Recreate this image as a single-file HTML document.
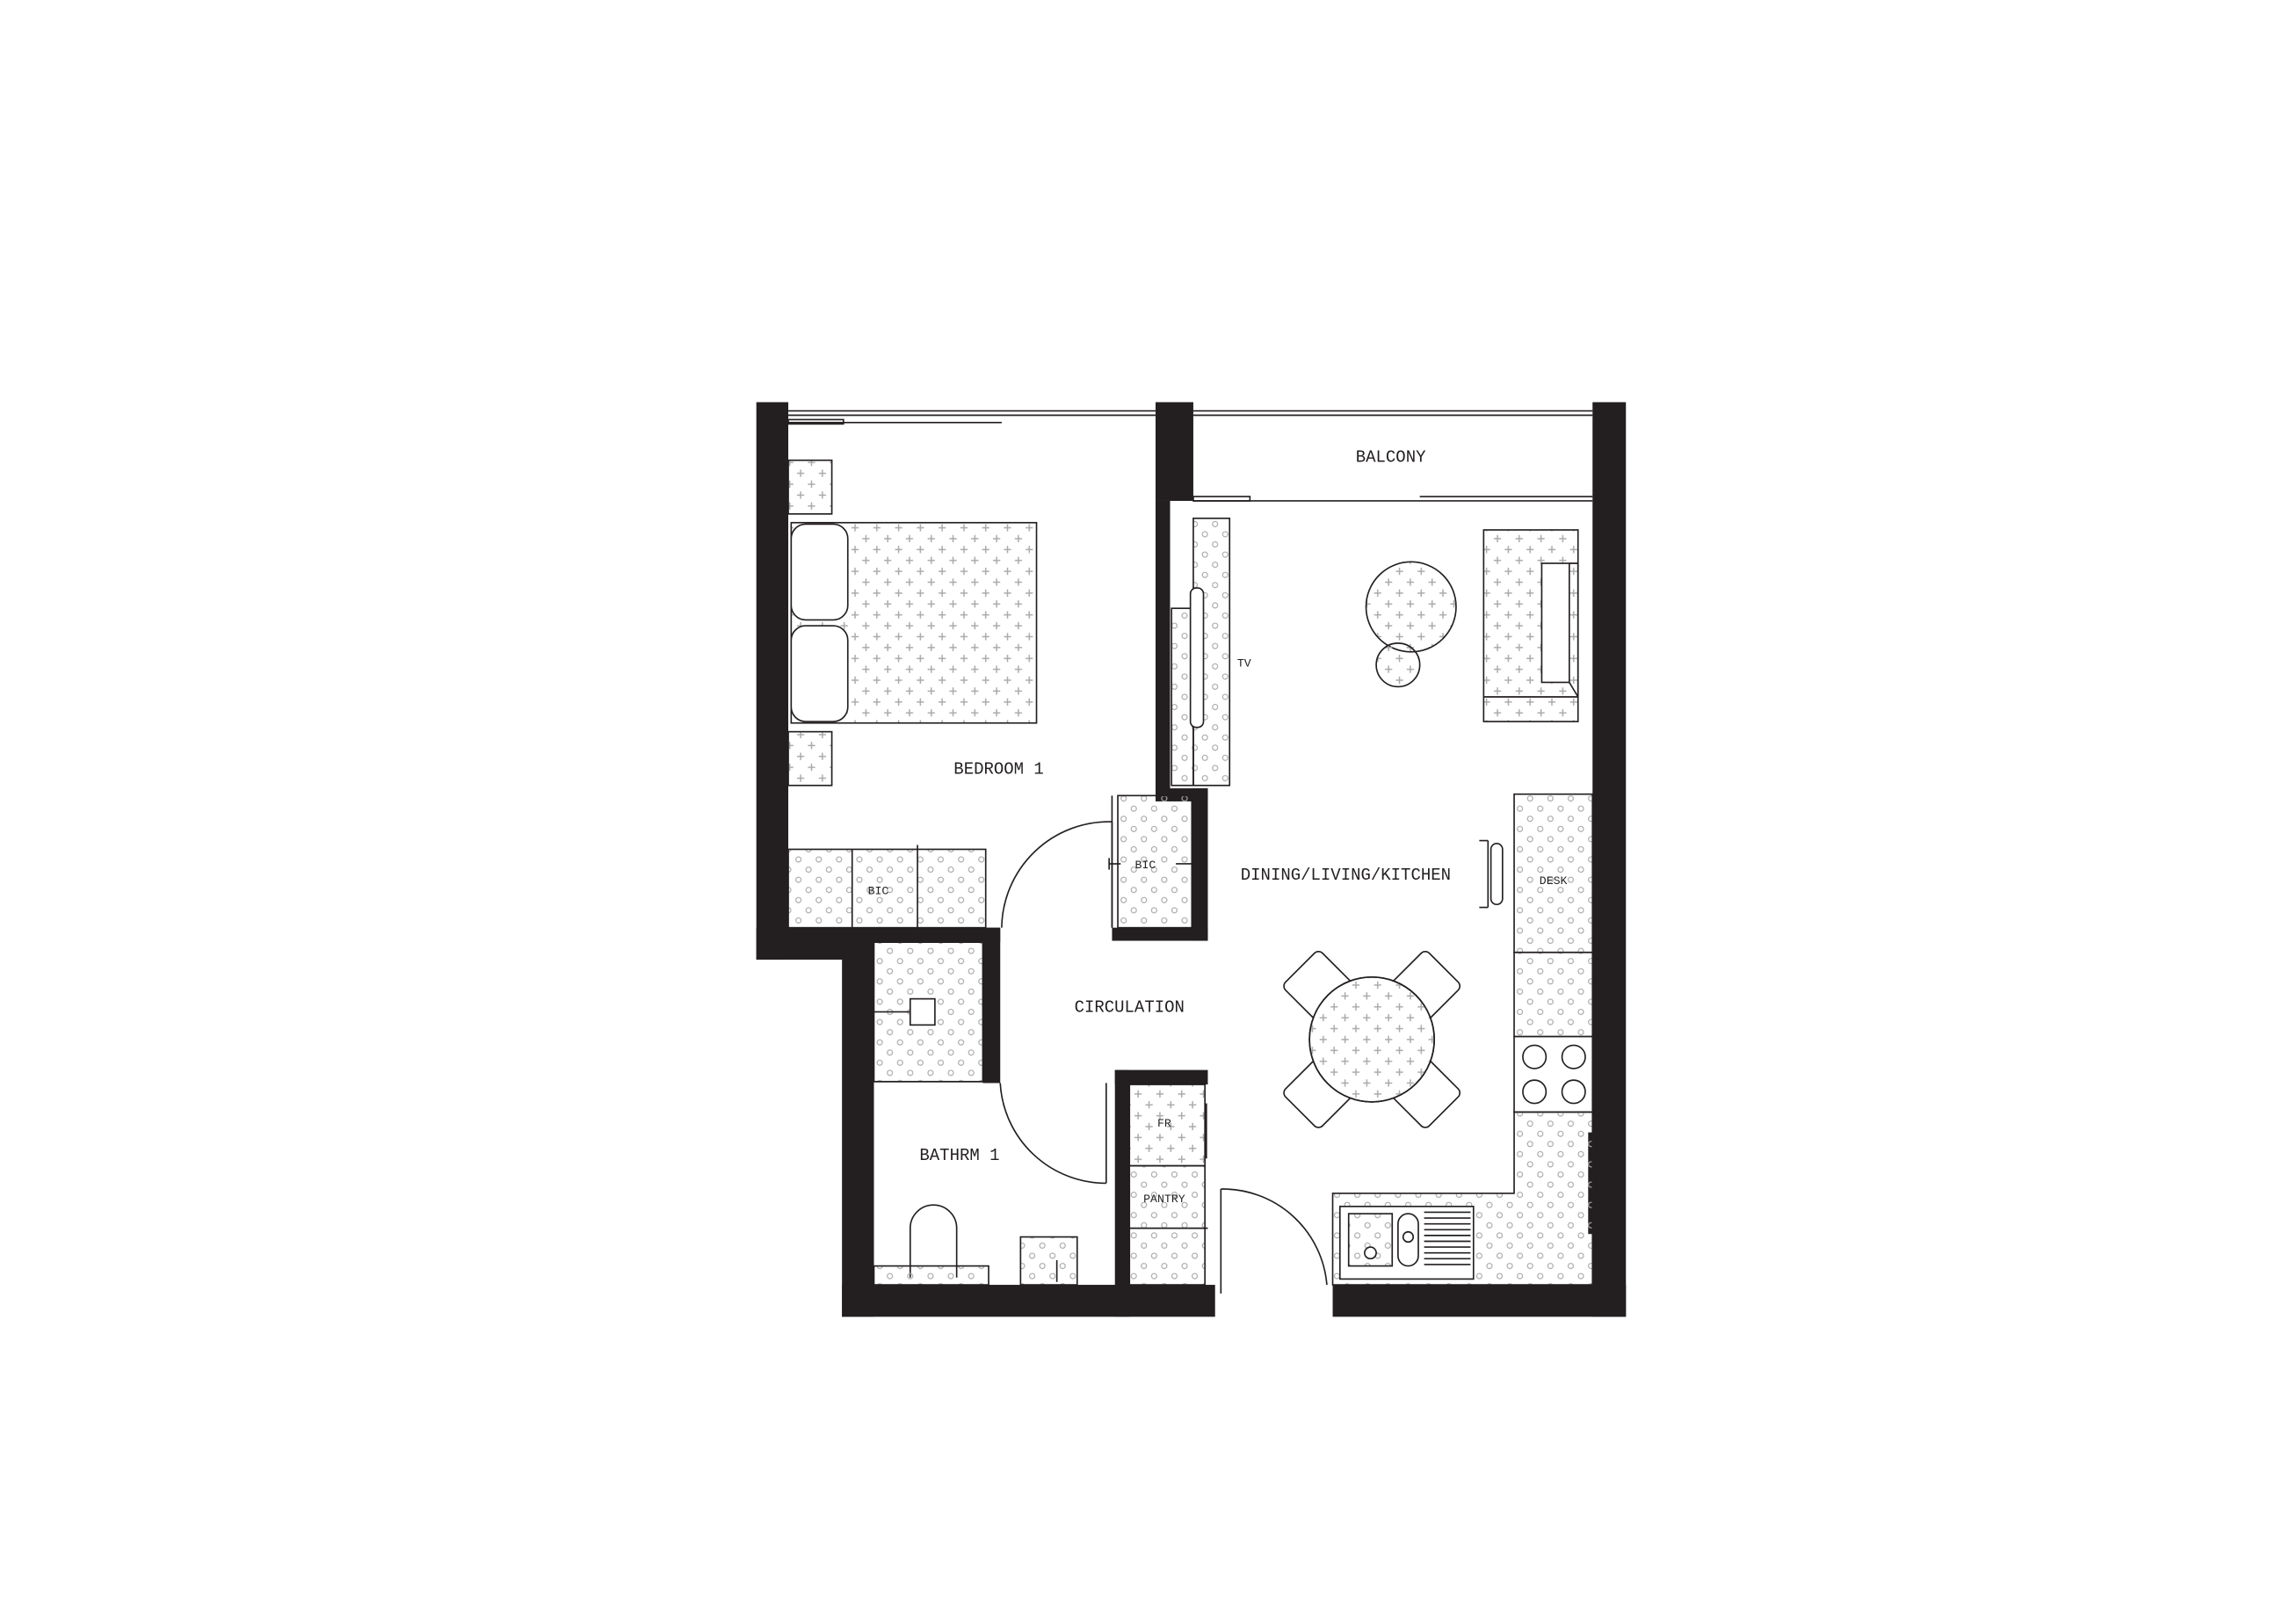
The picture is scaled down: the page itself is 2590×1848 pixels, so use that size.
<!DOCTYPE html>
<html><head><meta charset="utf-8"><style>
html,body{margin:0;padding:0;background:#fff;}
svg{display:block}
text{font-family:"Liberation Mono","DejaVu Sans Mono",monospace;fill:#231f20}
</style></head><body>
<svg width="2590" height="1848" viewBox="0 0 1567.8 1118.6" xmlns="http://www.w3.org/2000/svg">
<defs>
<pattern id="pl" width="15" height="15" patternUnits="userSpaceOnUse">
<path d="M4 1v5M1.5 3.5h5M11.5 8.5v5M9 11h5" stroke="#aaa" stroke-width="0.9"/>
</pattern>
<pattern id="ci" width="14" height="14" patternUnits="userSpaceOnUse">
<circle cx="4" cy="4" r="1.8" fill="none" stroke="#aaa" stroke-width="0.7"/>
<circle cx="11" cy="11" r="1.8" fill="none" stroke="#aaa" stroke-width="0.7"/>
</pattern>
</defs>
<g fill="#231f20">
<rect x="521" y="277" width="22" height="384"/>
<rect x="521" y="639" width="81" height="22"/>
<rect x="580" y="639" width="22" height="268"/>
<rect x="543" y="639" width="146" height="10"/>
<rect x="677" y="639" width="12" height="107"/>
<rect x="580" y="885" width="257" height="22"/>
<rect x="918" y="885" width="202" height="22"/>
<rect x="1097" y="277" width="23" height="630"/>
<rect x="796" y="277" width="26" height="68"/>
<rect x="796" y="345" width="10" height="200"/>
<rect x="796" y="543" width="36" height="9"/>
<rect x="821" y="543" width="11" height="105"/>
<rect x="766" y="639" width="66" height="9"/>
<rect x="768" y="737" width="10" height="170"/>
<rect x="768" y="737" width="64" height="10"/>
<rect x="1094" y="780" width="3" height="70"/>
</g>
<g fill="none" stroke="#231f20" stroke-width="1">
<line x1="543" y1="283" x2="796" y2="283"/><line x1="543" y1="286" x2="796" y2="286"/>
<line x1="543" y1="291" x2="690" y2="291"/><rect x="543" y="289" width="38" height="3"/>
<line x1="822" y1="283" x2="1097" y2="283"/><line x1="822" y1="286" x2="1097" y2="286"/>
<line x1="822" y1="345" x2="1097" y2="345"/><line x1="978" y1="342" x2="1097" y2="342"/>
<rect x="822" y="342" width="39" height="3"/>
<rect x="543" y="317" width="30" height="37" fill="url(#pl)"/>
<rect x="543" y="504" width="30" height="37" fill="url(#pl)"/>
<rect x="545" y="360" width="169" height="138" fill="url(#pl)"/>
<rect x="545" y="361" width="39" height="66" rx="10" fill="#fff"/>
<rect x="545" y="431" width="39" height="66" rx="10" fill="#fff"/>
<rect x="543" y="585" width="136" height="54" fill="url(#ci)"/>
<line x1="587" y1="585" x2="587" y2="639"/><line x1="632" y1="582" x2="632" y2="639"/>
<line x1="766" y1="566" x2="766" y2="639"/>
<path d="M766 566 A74 74 0 0 0 690 639"/>
<rect x="770" y="548" width="51" height="91" fill="url(#ci)"/>
<line x1="766" y1="548" x2="766" y2="639"/>
<line x1="764" y1="595" x2="772" y2="595"/><line x1="764" y1="591" x2="764" y2="599"/>
<line x1="810" y1="595" x2="821" y2="595"/>
<rect x="822" y="357" width="25" height="184" fill="url(#ci)"/>
<rect x="807" y="419" width="15" height="122" fill="url(#ci)"/>
<rect x="820" y="405" width="9" height="96" rx="4" fill="#fff"/>
<circle cx="972" cy="418" r="31" fill="url(#pl)"/>
<circle cx="963" cy="458" r="15" fill="url(#pl)"/>
<rect x="1022" y="365" width="65" height="132" fill="url(#pl)"/>
<rect x="1062" y="388" width="19" height="82" fill="#fff"/>
<path d="M1022 480 H1087 M1081 470 L1087 480 M1081 388 H1087 V480"/>
<rect x="1043" y="547" width="54" height="109" fill="url(#ci)"/>
<rect x="1043" y="656" width="54" height="58" fill="url(#ci)"/>
<rect x="1043" y="714" width="54" height="52" fill="#fff"/>
<circle cx="1057" cy="728" r="8"/><circle cx="1084" cy="728" r="8"/>
<circle cx="1057" cy="752" r="8"/><circle cx="1084" cy="752" r="8"/>
<path d="M1043 766 H1097 V885 H918 V822 H1043 Z" fill="url(#ci)"/>
<rect x="923" y="831" width="92" height="50" fill="#fff"/>
<rect x="929" y="836" width="30" height="36" fill="url(#ci)"/>
<circle cx="944" cy="863" r="4"/>
<rect x="963" y="836" width="14" height="36" rx="7"/>
<circle cx="970" cy="852" r="3.5"/>
<path d="M981 835h32M981 839h32M981 843h32M981 847h32M981 851h32M981 855h32M981 859h32M981 863h32M981 867h32M981 871h32"/>
<path d="M1019 579 h6 M1019 625 h6 M1025 579 v46"/>
<rect x="1027" y="581" width="8" height="42" rx="4"/>
<g transform="translate(945 716) rotate(45)">
<rect x="-18" y="-70" width="36" height="36" rx="4"/>
<rect x="-18" y="34" width="36" height="36" rx="4"/>
<rect x="-70" y="-18" width="36" height="36" rx="4"/>
<rect x="34" y="-18" width="36" height="36" rx="4"/>
</g>
<circle cx="945" cy="716" r="43" fill="#fff"/>
<circle cx="945" cy="716" r="43" fill="url(#pl)"/>
<rect x="602" y="649" width="75" height="96" fill="url(#ci)"/>
<line x1="602" y1="745" x2="677" y2="745"/>
<rect x="627" y="688" width="17" height="18" fill="#fff"/>
<line x1="602" y1="697" x2="627" y2="697"/>
<line x1="762" y1="746" x2="762" y2="815"/>
<path d="M689 746 A73 73 0 0 0 762 815"/>
<path d="M627 880 V846 A16 16 0 0 1 659 846 V880" fill="#fff"/>
<rect x="602" y="872" width="79" height="13" fill="url(#ci)"/>
<rect x="703" y="852" width="39" height="33" fill="url(#ci)"/>
<line x1="728" y1="868" x2="728" y2="883"/>
<rect x="778" y="747" width="52" height="56" fill="url(#pl)"/>
<rect x="778" y="803" width="52" height="82" fill="url(#ci)"/>
<line x1="778" y1="846" x2="832" y2="846"/>
<line x1="831" y1="760" x2="831" y2="798"/>
<line x1="841" y1="819" x2="841" y2="891"/>
<path d="M841 819 A72 72 0 0 1 914 885"/>
</g>
<g font-size="11.5" text-anchor="middle">
<text x="958" y="318">BALCONY</text>
<text x="688" y="533">BEDROOM 1</text>
<text x="927" y="606">DINING/LIVING/KITCHEN</text>
<text x="778" y="697">CIRCULATION</text>
<text x="661" y="799">BATHRM 1</text>
</g>
<g font-size="8" text-anchor="middle">
<text x="857" y="459">TV</text>
<text x="789" y="598">BIC</text>
<text x="605" y="616">BIC</text>
<text x="1070" y="609">DESK</text>
<text x="802" y="776">FR</text>
<text x="802" y="828">PANTRY</text>
</g>
</svg>
</body></html>
